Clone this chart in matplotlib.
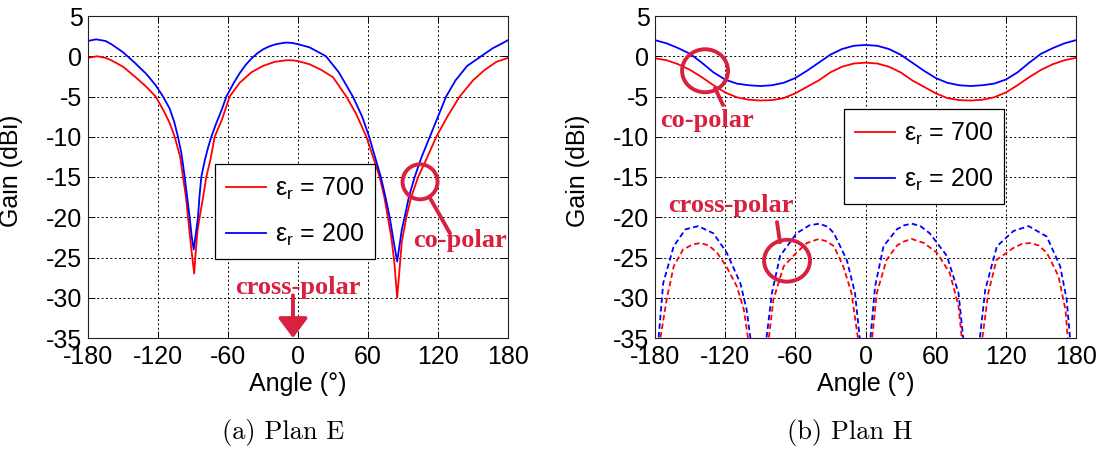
import matplotlib
matplotlib.use('Agg')
import matplotlib.pyplot as plt
from matplotlib.patches import Ellipse
import numpy as np

plt.rcParams['font.family'] = ['Liberation Sans', 'DejaVu Sans']
plt.rcParams['mathtext.default'] = 'regular'
plt.rcParams['axes.unicode_minus'] = False

# ---------------- data ----------------
x_ticks = [-180, -120, -60, 0, 60, 120, 180]
y_ticks = [5, 0, -5, -10, -15, -20, -25, -30, -35]
legend_labels = ['ε$_{r}$ = 700', 'ε$_{r}$ = 200']
captions = ['(a) Plan E', '(b) Plan H']

# Plan E, co-polar
e700_ang = [-180, -172, -165, -160, -150, -140, -130, -122, -115, -110, -105.7, -101, -98.6,
            -96, -94.3, -92.5, -91, -89, -87.5, -86, -84.3, -81, -78.6, -75, -71.4, -65,
            -58.6, -50, -40, -30, -20, -10, -5, 0, 10, 20, 30, 41.4, 50, 58.6, 65, 70, 74,
            77, 80, 82.5, 85, 87, 89, 92.9, 97, 103, 110, 118.6, 128, 138.6, 150, 160, 170, 180]
e700_val = [-0.2, 0.0, -0.2, -0.5, -1.3, -2.5, -3.8, -5.0, -6.8, -8.3, -10.0, -12.5, -15.0,
            -17.5, -20.0, -22.5, -24.5, -27.0, -24.0, -21.5, -20.0, -17.2, -15.0, -12.8, -10.0, -7.8,
            -5.0, -3.3, -2.0, -1.2, -0.7, -0.5, -0.5, -0.6, -1.0, -1.7, -2.6, -5.0, -7.2, -10.0, -12.8, -15.0, -17.5,
            -20.0, -22.5, -25.5, -30.0, -26.5, -23.0, -20.0, -17.5, -15.0, -12.8, -10.0, -7.5, -5.0, -3.0, -1.7, -0.7, -0.2]

e200_ang = [-180, -173, -165, -160, -150, -140, -130, -122, -115.7, -110, -106, -102.9, -100,
            -97.1, -95, -92.9, -91, -89.4, -88, -85.7, -84.5, -82.9, -80, -77, -74.3, -70,
            -65, -61.4, -55, -50, -45, -40, -35, -30, -25, -20, -15, -10, -5, 0, 10, 24, 35, 47,
            55, 61, 66, 71, 75, 78.6, 82, 85, 87, 89, 91.4, 95, 100, 106, 113, 120, 127, 135,
            145, 157, 167, 175, 180]
e200_val = [1.9, 2.1, 1.9, 1.5, 0.5, -0.8, -2.2, -3.6, -5.0, -6.5, -8.2, -10.0, -12.0,
            -15.0, -17.5, -20.0, -22.5, -24.0, -22.5, -20.0, -17.5, -15.0, -13.0, -11.3, -10.0, -8.3,
            -6.5, -5.0, -3.3, -2.1, -1.1, -0.3, 0.35, 0.85, 1.2, 1.45, 1.6, 1.7, 1.65, 1.5, 1.1, 0.0, -2.0, -5.0,
            -7.5, -10.0, -12.5, -15.0, -17.5, -20.0, -23.0, -25.5, -23.5, -21.5, -20.0, -17.5, -15.0, -12.5,
            -10.0, -7.5, -5.0, -3.0, -1.2, 0.0, 1.0, 1.6, 2.0]

# Plan H, co-polar
h_co_ang = [-180, -170, -160, -150, -140, -130, -120, -110, -100, -90, -80, -70, -60, -50, -40,
            -30, -20, -10, 0, 10, 20, 30, 40, 50, 60, 70, 80, 90, 100, 110, 120, 130, 140, 150,
            160, 170, 180]
h700_co = [-0.25, -0.5, -1.0, -1.7, -2.6, -3.6, -4.5, -5.1, -5.4, -5.5, -5.45, -5.2, -4.6, -3.8, -3.0,
           -2.0, -1.3, -0.9, -0.8, -0.9, -1.3, -2.0, -3.0, -3.8, -4.6, -5.2, -5.45, -5.5, -5.4, -5.1, -4.5,
           -3.6, -2.6, -1.7, -1.0, -0.5, -0.2]
h200_co = [2.0, 1.6, 1.0, 0.3, -0.8, -2.0, -2.9, -3.4, -3.6, -3.7, -3.6, -3.3, -2.7, -1.8, -0.8,
           0.2, 0.9, 1.3, 1.4, 1.3, 0.9, 0.2, -0.8, -1.8, -2.7, -3.3, -3.6, -3.7, -3.6, -3.4, -2.9,
           -2.0, -0.8, 0.3, 1.0, 1.6, 2.0]

# Plan H, cross-polar (lobes separated by gaps)
h700_x_ang = [-176.5, -170, -164, -156, -148, -141.5, -134, -127, -119, -110, -104, -99.5, np.nan,
              -83.5, -78.7, -70, -59, -50, -40, -33, -27, -19, -12, -5.5, np.nan,
              5, 9.7, 18, 27, 33, 39.6, 50, 61, 72, 79.5, 83, np.nan,
              99, 105, 112, 126.6, 134, 141, 148, 155, 165, 171, 173.5]
h700_x_val = [-36, -30.2, -26.1, -24.0, -23.4, -23.2, -23.5, -24.4, -26.1, -28.6, -31.5, -36, np.nan,
              -36, -30.2, -26.1, -24.4, -23.2, -22.7, -23.0, -23.6, -26.1, -29.4, -36, np.nan,
              -36, -29.4, -25.3, -23.5, -23.0, -22.7, -23.2, -24.4, -26.9, -31.0, -36, np.nan,
              -36, -29.4, -25.3, -23.8, -23.3, -23.2, -23.5, -24.4, -27.3, -31.5, -36]
h200_x_ang = [-177.5, -173, -164, -154, -143, -130, -118.7, -107, -101.6, -97.5, np.nan,
              -85.5, -80, -73, -59, -48, -39.4, -32, -27, -16, -9, -4.2, np.nan,
              3.6, 8.2, 15.4, 26.8, 33, 39.6, 47, 55, 69.6, 79.5, 84.3, np.nan,
              97, 102.4, 112.4, 126.6, 139.5, 155, 166.5, 172, 175.5]
h200_x_val = [-36, -28.2, -23.6, -21.5, -21.1, -22.0, -24.4, -28.2, -31.5, -36, np.nan,
              -36, -29.4, -24.8, -22.0, -21.0, -20.8, -21.2, -22.0, -25.3, -29.4, -36, np.nan,
              -36, -28.6, -23.6, -21.5, -21.0, -20.8, -21.1, -22.0, -24.8, -29.4, -36, np.nan,
              -36, -29.0, -23.6, -21.7, -21.1, -22.4, -26.1, -30.2, -36]

RED = '#FF0000'
BLUE = '#0000FF'
ANN = '#D8203F'
ANN_FONT = dict(family=['Liberation Serif', 'DejaVu Serif'], weight='bold', size=19, color=ANN)

fig = plt.figure(figsize=(11.01, 4.54), dpi=100)
W, H = 1101, 454


def make_axes(left_px, right_px):
    ax = fig.add_axes([left_px / W, (H - 338) / H, (right_px - left_px) / W, 322 / H])
    ax.set_xlim(-180, 180)
    ax.set_ylim(-35, 5)
    ax.set_xticks(x_ticks)
    ax.set_yticks(y_ticks)
    ax.tick_params(direction='in', top=True, right=True, length=5, width=0.7,
                   labelsize=18, pad=5)
    ax.tick_params(axis='y', pad=4)
    ax.grid(True, color='black', linestyle=(0, (2, 2.5)), linewidth=0.7)
    for s in ax.spines.values():
        s.set_linewidth(0.8)
        s.set_color('#222222')
    ax.set_xlabel('Angle (°)', fontsize=18)
    ax.set_ylabel('Gain (dBi)', fontsize=18)
    ax.xaxis.set_label_coords(0.5, -0.105)
    ax.yaxis.set_label_coords(-0.155, 0.52)
    return ax


def make_legend(ax, anchor):
    leg = ax.legend(loc='upper left', bbox_to_anchor=anchor, fontsize=18,
                    handlelength=1.6, handletextpad=0.35, labelspacing=0.8,
                    fancybox=False, framealpha=1, edgecolor='black', borderpad=0.45,
                    borderaxespad=0)
    leg.get_frame().set_linewidth(0.9)
    return leg


# ---------- (a) Plan E ----------
ax1 = make_axes(88, 508)
ax1.plot(e700_ang, e700_val, color=RED, lw=1.3, label=legend_labels[0])
ax1.plot(e200_ang, e200_val, color=BLUE, lw=1.3, label=legend_labels[1])
make_legend(ax1, (0.302, 0.54))

ax1.add_patch(Ellipse((104.6, -15.6), 30, 4.35, fill=False, ec=ANN, lw=2.8, zorder=5))
ax1.plot([113.1, 130.3], [-17.6, -22.0], color=ANN, lw=2.8, zorder=5, solid_capstyle='round')
ax1.text(139, -22.9, 'co-polar', ha='center', va='center', clip_on=False, zorder=6, **ANN_FONT)
ax1.text(0, -28.7, 'cross-polar', ha='center', va='center', clip_on=False, zorder=6, **ANN_FONT)
ax1.annotate('', xy=(-4.3, -35), xytext=(-4.3, -29.7),
             arrowprops=dict(arrowstyle='-|>,head_length=0.6,head_width=0.45', color=ANN, lw=2.8,
                             mutation_scale=20, shrinkA=0, shrinkB=0),
             annotation_clip=False, zorder=6)

# ---------- (b) Plan H ----------
ax2 = make_axes(655, 1076)
ax2.plot(h_co_ang, h700_co, color=RED, lw=1.3, label=legend_labels[0])
ax2.plot(h_co_ang, h200_co, color=BLUE, lw=1.3, label=legend_labels[1])
ax2.plot(h700_x_ang, h700_x_val, color=RED, lw=1.3, linestyle=(0, (3, 1.8)))
ax2.plot(h200_x_ang, h200_x_val, color=BLUE, lw=1.3, linestyle=(0, (3, 1.8)))
make_legend(ax2, (0.449, 0.711))

ax2.add_patch(Ellipse((-137.2, -1.8), 39.3, 5.34, fill=False, ec=ANN, lw=2.8, zorder=5))
ax2.plot([-128.7, -121.9], [-3.94, -6.06], color=ANN, lw=2.8, zorder=5, solid_capstyle='round')
ax2.text(-135.5, -8.0, 'co-polar', ha='center', va='center', zorder=6, **ANN_FONT)
ax2.add_patch(Ellipse((-67.1, -25.4), 39.3, 5.2, fill=False, ec=ANN, lw=2.8, zorder=5))
ax2.plot([-75.7, -73.1], [-20.6, -23.1], color=ANN, lw=2.8, zorder=5, solid_capstyle='round')
ax2.text(-115, -18.5, 'cross-polar', ha='center', va='center', zorder=6, **ANN_FONT)

# captions
fig.text(283 / W, 1 - 433 / H, captions[0], ha='center', va='center',
         family=['cmr10', 'DejaVu Serif'], fontsize=19)
fig.text(850 / W, 1 - 433 / H, captions[1], ha='center', va='center',
         family=['cmr10', 'DejaVu Serif'], fontsize=19)

fig.savefig('out.png', dpi=100, facecolor='white')
